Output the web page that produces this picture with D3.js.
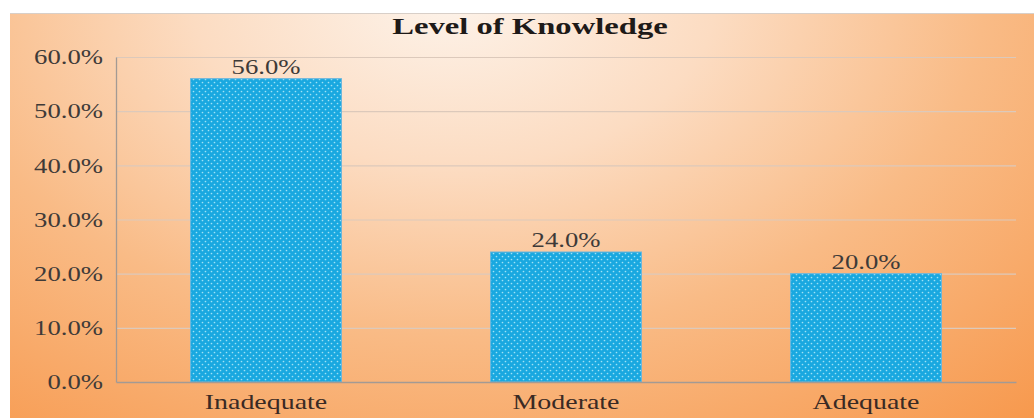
<!DOCTYPE html>
<html><head><meta charset="utf-8">
<script src="https://cdn.jsdelivr.net/npm/d3@7"></script>
<style>html,body{margin:0;padding:0;background:#fff;}svg{display:block;}</style>
</head><body>
<script>
const categories = ["Inadequate", "Moderate", "Adequate"];
const values = [56.0, 24.0, 20.0];
const yTicks = [0, 10, 20, 30, 40, 50, 60];
const title = "Level of Knowledge";

const W = 1034, H = 418;
const SX = 1.27;
const svg = d3.select("body").append("svg").attr("width", W).attr("height", H);
const defs = svg.append("defs");

const rg = defs.append("radialGradient").attr("id", "bg")
  .attr("gradientUnits", "userSpaceOnUse")
  .attr("cx", 470).attr("cy", -10).attr("r", 760)
  .attr("fx", 450).attr("fy", 0)
  .attr("gradientTransform", "translate(470,-10) scale(1.15,0.75) translate(-470,10)");
rg.append("stop").attr("offset", "0%").attr("stop-color", "#fdf3ea");
rg.append("stop").attr("offset", "30%").attr("stop-color", "#fcdcc2");
rg.append("stop").attr("offset", "60%").attr("stop-color", "#f9bb86");
rg.append("stop").attr("offset", "100%").attr("stop-color", "#f7984c");

const pat = defs.append("pattern").attr("id", "dots").attr("patternUnits", "userSpaceOnUse")
  .attr("width", 6).attr("height", 6);
pat.append("rect").attr("width", 6).attr("height", 6).attr("fill", "#19a8e0");
pat.append("circle").attr("cx", 1.5).attr("cy", 1.5).attr("r", 0.85).attr("fill", "#9fe2f5");
pat.append("circle").attr("cx", 4.5).attr("cy", 4.5).attr("r", 0.85).attr("fill", "#9fe2f5");

svg.append("rect").attr("x", 10).attr("y", 13).attr("width", W - 10).attr("height", H - 13)
  .attr("fill", "url(#bg)");
svg.append("line").attr("x1", 10).attr("x2", W).attr("y1", 13.5).attr("y2", 13.5)
  .attr("stroke", "#d8cfc8").attr("stroke-width", 1);

const x0 = 116, x1 = 1016, yTop = 57, yBot = 382;
const x = d3.scaleBand().domain(categories).range([x0, x1]).paddingInner(0.497).paddingOuter(0.2485);
const y = d3.scaleLinear().domain([0, 60]).range([yBot, yTop]);

const font = "'Liberation Serif','Times New Roman',serif";

function stretch(sel) {
  sel.each(function () {
    const t = d3.select(this);
    const tx = +t.attr("x") || 0;
    t.attr("x", 0).attr("transform", `translate(${tx},0) scale(${SX},1)`);
  });
}

// gridlines
svg.append("g").selectAll("line").data(yTicks.filter(d => d > 0)).join("line")
  .attr("x1", x0).attr("x2", x1).attr("y1", d => y(d) + 0.5).attr("y2", d => y(d) + 0.5)
  .attr("stroke", "#dcc9bb").attr("stroke-width", 1.2);

// y axis
const yAxis = d3.axisLeft(y).tickValues(yTicks).tickSize(0).tickPadding(13)
  .tickFormat(d => d.toFixed(1) + "%");
const gy = svg.append("g").attr("transform", `translate(${x0},0)`).call(yAxis);
gy.select(".domain").attr("stroke", "#a39a94").attr("stroke-width", 1.3);
gy.selectAll("text").attr("font-family", font).attr("font-size", 21).attr("fill", "#3e3a38").call(stretch);

// bars
svg.append("g").selectAll("rect").data(values).join("rect")
  .attr("x", (d, i) => x(categories[i]))
  .attr("y", d => y(d))
  .attr("width", x.bandwidth())
  .attr("height", d => yBot - y(d))
  .attr("fill", "url(#dots)")
  .attr("stroke", "#6cb6dc").attr("stroke-width", 1);

// x axis
const xAxis = d3.axisBottom(x).tickSize(0).tickPadding(11);
const gx = svg.append("g").attr("transform", `translate(0,${yBot})`).call(xAxis);
gx.select(".domain").attr("stroke", "#a39a94").attr("stroke-width", 1.3);
gx.selectAll("text").attr("font-family", font).attr("font-size", 22).attr("fill", "#3a2a24").call(stretch);

// labels
svg.append("g").selectAll("text").data(values).join("text")
  .attr("y", d => y(d) - 5)
  .attr("transform", (d, i) => `translate(${x(categories[i]) + x.bandwidth() / 2},0) scale(${SX},1)`)
  .attr("text-anchor", "middle")
  .attr("font-family", font).attr("font-size", 21).attr("fill", "#3e3a38")
  .text(d => d.toFixed(1) + "%");

svg.append("text").attr("y", 34).attr("text-anchor", "middle")
  .attr("transform", "translate(530,0) scale(1.36,1)")
  .attr("font-family", font).attr("font-weight", "bold").attr("font-size", 24)
  .attr("fill", "#1e1a18").text(title);
</script>
</body></html>
